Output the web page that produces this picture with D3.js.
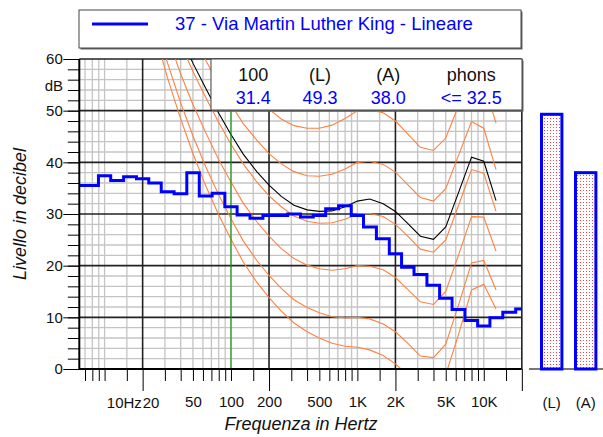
<!DOCTYPE html>
<html>
<head>
<meta charset="utf-8">
<script src="https://cdn.jsdelivr.net/npm/d3@7"></script>
<style>
  body { margin: 0; background: #fff; }
  svg { font-family: "Liberation Sans", Arial, sans-serif; }
</style>
</head>
<body>
<svg id="chart" width="603" height="437"></svg>
<script>
// 1/3 octave band spectrum (dB)
const bandFreqs = [6.3, 8, 10, 12.5, 16, 20, 25, 31.5, 40, 50, 63, 80, 100, 125, 160, 200, 250, 315,
  400, 500, 630, 800, 1000, 1250, 1600, 2000, 2500, 3150, 4000, 5000, 6300, 8000, 10000, 12500, 16000, 20000];
const bandLevels = [35.5, 35.5, 37.4, 36.5, 37.2, 36.8, 36.0, 34.3, 33.9, 38.0, 33.5, 34.0, 31.4, 29.8, 29.2, 29.7, 29.7, 30.0,
  29.4, 29.7, 31.0, 31.6, 29.7, 27.5, 25.2, 22.3, 19.7, 18.3, 16.2, 13.7, 11.5, 9.4, 8.3, 9.9, 11.0, 11.6];

// equal loudness contours
const contourFreqs = [20, 25, 31.5, 40, 50, 63, 80, 100, 125, 160, 200, 250, 315, 400, 500, 630, 800,
  1000, 1250, 1600, 2000, 2500, 3150, 4000, 5000, 6300, 8000, 10000, 12500];
const threshold = [74.3, 65.0, 56.3, 48.4, 41.7, 35.5, 29.8, 25.1, 20.7, 16.8, 13.8, 11.2, 8.9, 7.2, 6.0, 5.0, 4.4,
  4.2, 3.7, 2.6, 1.0, -1.2, -3.6, -3.9, -1.1, 6.6, 15.3, 16.4, 11.6];
const phon10 = [76.8, 67.7, 59.2, 51.5, 45.1, 39.2, 33.7, 29.1, 24.8, 21.0, 18.1, 15.6, 13.4, 11.9, 10.9, 10.1, 9.9,
  10.0, 9.7, 8.7, 7.2, 5.0, 2.5, 2.2, 4.8, 12.3, 20.5, 21.0, 15.3];
const phon20 = [81.3, 72.5, 64.3, 57.1, 51.2, 45.8, 40.5, 36.2, 32.1, 28.5, 25.7, 23.3, 21.4, 20.1, 19.4, 19.1, 19.4,
  20.0, 19.9, 19.2, 17.7, 15.4, 13.0, 12.5, 15.0, 22.0, 29.5, 29.4, 22.8];
const phon30 = [86.0, 77.6, 69.7, 62.9, 57.6, 52.6, 47.7, 43.5, 39.7, 36.2, 33.5, 31.4, 29.6, 28.6, 28.2, 28.3, 29.0,
  30.0, 30.1, 29.5, 28.0, 25.7, 23.2, 22.6, 25.0, 31.6, 38.6, 37.9, 30.5];
const phon40 = [91.0, 82.9, 75.4, 69.0, 64.3, 59.8, 55.0, 51.2, 47.5, 44.3, 41.7, 39.7, 38.2, 37.4, 37.3, 37.7, 38.7,
  40.0, 40.2, 39.6, 38.1, 35.7, 33.2, 32.5, 34.9, 41.3, 47.9, 46.6, 38.6];
const phon50 = [96.2, 88.5, 81.3, 75.4, 71.3, 67.1, 62.7, 59.1, 55.7, 52.7, 50.3, 48.4, 47.1, 46.6, 46.6, 47.2, 48.5,
  50.0, 50.2, 49.6, 48.0, 45.5, 42.9, 42.3, 44.7, 50.9, 57.5, 55.5, 47.6];
const phonResult = [87.2, 78.9, 71.1, 64.4, 59.2, 54.4, 49.5, 45.4, 41.6, 38.2, 35.6, 33.4, 31.7, 30.8, 30.5, 30.6, 31.4,
  32.5, 32.9, 32.0, 30.5, 28.2, 25.7, 25.1, 27.5, 34.1, 41.0, 40.2, 32.6];

// overall levels
const barLabels = ["(L)", "(A)"];
const barValues = [49.3, 38.0];

const infoHeads = ["100", "(L)", "(A)", "phons"];
const infoValues = ["31.4", "49.3", "38.0", "<= 32.5"];

const legendText = "37 - Via Martin Luther King - Lineare";
const xTickValues = [50, 100, 200, 500, 1000, 2000, 5000, 10000];
const xTickLabels = ["50", "100", "200", "500", "1K", "2K", "5K", "10K"];
const minorFreqs = [7, 8, 9, 10, 15, 30, 40, 50, 60, 70, 80, 90, 100, 150, 300, 400, 500, 600, 700, 800, 900,
  1000, 1500, 3000, 4000, 5000, 6000, 7000, 8000, 9000, 10000, 15000];
const majorFreqs = [20, 200, 2000, 20000];

const blue = "#0000ff", orange = "#ff8040", font = "\"Liberation Sans\", Arial, sans-serif";
const L = 79.3, R = 521.7, T = 59, B = 369;

const svg = d3.select("#chart");
const x = d3.scaleLog().domain([Math.pow(10, 0.8), Math.pow(10, 4.3)]).range([L, R]);
const y = d3.scaleLinear().domain([0, 60]).range([B, T]);

svg.append("defs").append("clipPath").attr("id", "plotclip")
  .append("rect").attr("x", L).attr("y", T).attr("width", R - L).attr("height", B - T);

const dots = svg.select("defs").append("pattern").attr("id", "dots")
  .attr("patternUnits", "userSpaceOnUse").attr("width", 3).attr("height", 3);
dots.append("rect").attr("width", 3).attr("height", 3).attr("fill", "#fff");
dots.append("rect").attr("x", 1).attr("y", 1).attr("width", 1).attr("height", 1).attr("fill", "#ff4040");

// legend box
svg.append("rect").attr("x", 80.5).attr("y", 11.5).attr("width", 442).attr("height", 38).attr("fill", "#666");
svg.append("rect").attr("x", 79).attr("y", 10).attr("width", 442).attr("height", 38)
  .attr("fill", "#fff").attr("stroke", "#444").attr("stroke-width", 1);
svg.append("line").attr("x1", 92).attr("x2", 148).attr("y1", 24).attr("y2", 24)
  .attr("stroke", blue).attr("stroke-width", 3);
svg.append("text").attr("x", 175).attr("y", 30).attr("fill", blue)
  .style("font-size", "18.5px").text(legendText);

// grid
const grid = svg.append("g");
grid.selectAll("line.hmin").data(d3.range(0, 61, 2).filter(d => d % 10)).join("line")
  .attr("x1", L).attr("x2", R).attr("y1", d => y(d)).attr("y2", d => y(d))
  .attr("stroke", "#c4c4c4").attr("stroke-width", 1.3);
grid.selectAll("line.vmin").data(minorFreqs).join("line")
  .attr("x1", d => x(d)).attr("x2", d => x(d)).attr("y1", T).attr("y2", B)
  .attr("stroke", "#c4c4c4").attr("stroke-width", 1.3);
grid.selectAll("line.hmaj").data(d3.range(10, 61, 10)).join("line")
  .attr("x1", L).attr("x2", R).attr("y1", d => y(d)).attr("y2", d => y(d))
  .attr("stroke", "#222").attr("stroke-width", 1.6);
grid.selectAll("line.vmaj").data(majorFreqs).join("line")
  .attr("x1", d => x(d)).attr("x2", d => x(d)).attr("y1", T).attr("y2", B)
  .attr("stroke", "#222").attr("stroke-width", 1.6);

// contours
const curveLine = d3.line().x((d, i) => x(contourFreqs[i])).y(d => y(d));
const curves = svg.append("g").attr("clip-path", "url(#plotclip)");
curves.selectAll("path.iso").data([threshold, phon10, phon20, phon30, phon40, phon50]).join("path")
  .attr("d", curveLine).attr("fill", "none").attr("stroke", orange).attr("stroke-width", 1.1);
curves.append("path").attr("d", curveLine(phonResult))
  .attr("fill", "none").attr("stroke", "#000").attr("stroke-width", 1.1);

// 100 Hz marker
svg.append("line").attr("x1", x(100)).attr("x2", x(100)).attr("y1", T).attr("y2", B)
  .attr("stroke", "#119911").attr("stroke-width", 1.2);

// spectrum steps
const stepPts = bandFreqs.map((f, i) => [i === 0 ? x.domain()[0] : Math.sqrt(bandFreqs[i - 1] * f), bandLevels[i]]);
stepPts.push([x.domain()[1], bandLevels[bandLevels.length - 1]]);
svg.append("path")
  .attr("d", d3.line().x(d => x(d[0])).y(d => y(d[1])).curve(d3.curveStepAfter)(stepPts))
  .attr("fill", "none").attr("stroke", blue).attr("stroke-width", 3);

// axes
function styleAxis(g) {
  g.select(".domain").remove();
  g.attr("font-family", font).attr("font-size", 15);
  g.selectAll("line").attr("stroke", "#000");
  g.selectAll("text").attr("fill", "#111");
}
svg.append("g").attr("transform", `translate(${L},0)`)
  .call(d3.axisLeft(y).tickValues(d3.range(0, 61, 2)).tickSize(11.5).tickFormat(""))
  .call(styleAxis);
svg.append("g").attr("transform", `translate(${L},0)`)
  .call(d3.axisLeft(y).tickValues(d3.range(0, 61, 10)).tickSize(16).tickPadding(0.5).tickFormat(d3.format("d")))
  .call(styleAxis);
svg.append("text").attr("x", 63).attr("y", 91).attr("text-anchor", "end")
  .style("font-size", "15px").attr("fill", "#111").text("dB");

svg.append("g").attr("transform", `translate(0,${B})`)
  .call(d3.axisBottom(x).tickValues(minorFreqs).tickSize(12).tickFormat(""))
  .call(styleAxis);
svg.append("g").attr("transform", `translate(0,${B})`)
  .call(d3.axisBottom(x).tickValues(majorFreqs).tickSize(22).tickFormat(""))
  .call(styleAxis);
svg.append("g").attr("transform", `translate(0,${B})`)
  .call(d3.axisBottom(x).tickValues(xTickValues).tickSize(0).tickPadding(27.5)
    .tickFormat((d, i) => xTickLabels[i]))
  .call(styleAxis);
svg.append("text").attr("x", x(20) - 0.8).attr("y", 407.5).attr("text-anchor", "end")
  .style("font-size", "15px").attr("fill", "#111").text("10Hz");
svg.append("text").attr("x", x(20)).attr("y", 407.5).attr("text-anchor", "start")
  .style("font-size", "15px").attr("fill", "#111").text("20");

// frame lines
svg.append("line").attr("x1", L).attr("x2", L).attr("y1", T).attr("y2", B + 1)
  .attr("stroke", "#000").attr("stroke-width", 2);
svg.append("line").attr("x1", L).attr("x2", R).attr("y1", B).attr("y2", B)
  .attr("stroke", "#000").attr("stroke-width", 2.2);

// overall bars
const xb = d3.scalePoint().domain(barLabels).range([551.7, 585.7]);
svg.append("line").attr("x1", 529).attr("x2", 603).attr("y1", B).attr("y2", B)
  .attr("stroke", "#777").attr("stroke-width", 2);
svg.selectAll("rect.bar").data(barValues).join("rect")
  .attr("x", (d, i) => xb(barLabels[i]) - 10.2).attr("width", 20.4)
  .attr("y", d => y(d)).attr("height", d => y(0) - y(d))
  .attr("fill", "url(#dots)").attr("stroke", blue).attr("stroke-width", 3);
svg.selectAll("text.bl").data(barLabels).join("text")
  .attr("x", d => xb(d)).attr("y", 407.5).attr("text-anchor", "middle")
  .style("font-size", "15px").attr("fill", "#111").text(d => d);

// info box
svg.append("rect").attr("x", 212.5).attr("y", 60.5).attr("width", 311).attr("height", 51).attr("fill", "#666");
svg.append("rect").attr("x", 211).attr("y", 59).attr("width", 311).attr("height", 51)
  .attr("fill", "#fff").attr("stroke", "#444").attr("stroke-width", 1);
const infoX = [253.3, 320, 388.3, 471.3];
svg.selectAll("text.ih").data(infoHeads).join("text")
  .attr("x", (d, i) => infoX[i]).attr("y", 81).attr("text-anchor", "middle")
  .style("font-size", "18px").attr("fill", "#111").text(d => d);
svg.selectAll("text.iv").data(infoValues).join("text")
  .attr("x", (d, i) => infoX[i]).attr("y", 103.5).attr("text-anchor", "middle")
  .style("font-size", "18px").attr("fill", blue).text(d => d);

// axis titles
svg.append("text").attr("x", 301).attr("y", 430).attr("text-anchor", "middle")
  .style("font-size", "18px").style("font-style", "italic").attr("fill", "#111").text("Frequenza in Hertz");
svg.append("text").attr("transform", "translate(26,214) rotate(-90)").attr("text-anchor", "middle")
  .style("font-size", "18px").style("font-style", "italic").attr("fill", "#111").text("Livello in decibel");
</script>
</body>
</html>
